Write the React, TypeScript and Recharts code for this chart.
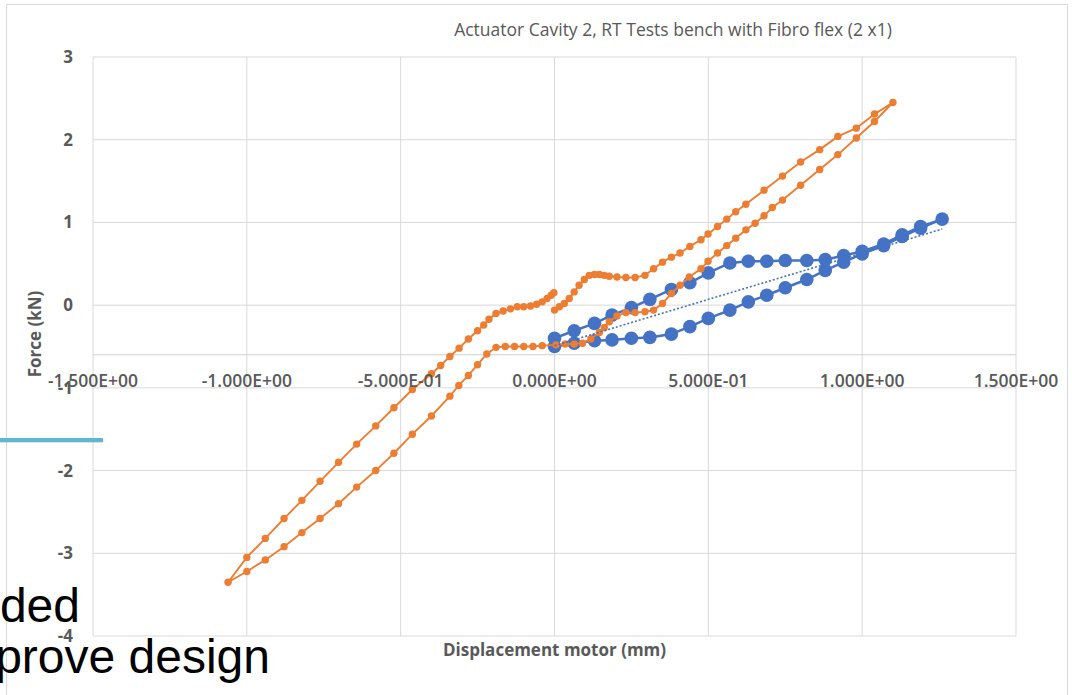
import {
  CartesianGrid,
  Label,
  ReferenceLine,
  Scatter,
  ScatterChart,
  XAxis,
  YAxis,
} from "recharts";

const FONT = "'Open Sans', 'DejaVu Sans', sans-serif";
const GREY = "#595959";

const xTicks = [-1.5, -1, -0.5, 0, 0.5, 1, 1.5];
const xTickLabels = [
  "-1.500E+00",
  "-1.000E+00",
  "-5.000E-01",
  "0.000E+00",
  "5.000E-01",
  "1.000E+00",
  "1.500E+00",
];
const yTicks = [-4, -3, -2, -1, 0, 1, 2, 3];
const xAxisCross = -0.6; // horizontal axis crosses the value axis here

// orange loop: out to +1.1, back through 0, down to -1.06, back up to 0
const orangeX = [
  0, 0.016, 0.032, 0.048, 0.064, 0.08, 0.097, 0.113, 0.13, 0.146, 0.162, 0.178,
  0.203, 0.232, 0.262, 0.294, 0.322, 0.351, 0.38, 0.408, 0.44, 0.476, 0.499,
  0.53, 0.56, 0.589, 0.622, 0.681, 0.741, 0.8, 0.862, 0.921, 0.981, 1.04, 1.1,
  1.04, 0.981, 0.921, 0.862, 0.8, 0.741, 0.708, 0.681, 0.652, 0.622, 0.589,
  0.56, 0.53, 0.499, 0.476, 0.438, 0.408, 0.38, 0.351, 0.322, 0.294, 0.262,
  0.232, 0.203, 0.178, 0.162, 0.146, 0.118, 0.091, 0.064, 0.035, 0.005, -0.04,
  -0.07, -0.1, -0.13, -0.16, -0.19, -0.22, -0.25, -0.28, -0.311, -0.34, -0.4,
  -0.462, -0.522, -0.581, -0.643, -0.702, -0.762, -0.821, -0.879, -0.94, -1.0,
  -1.061, -1.0, -0.94, -0.879, -0.821, -0.762, -0.702, -0.643, -0.581, -0.522,
  -0.462, -0.4, -0.37, -0.34, -0.31, -0.28, -0.25, -0.23, -0.213, -0.19,
  -0.167, -0.143, -0.121, -0.1, -0.078, -0.058, -0.04, -0.024, -0.011, -0.002,
];
const orangeY = [
  -0.06, -0.02, 0.02, 0.08, 0.16, 0.24, 0.31, 0.36, 0.37, 0.37, 0.36, 0.35,
  0.34, 0.335, 0.335, 0.36, 0.44, 0.52, 0.58, 0.63, 0.71, 0.79, 0.86, 0.95,
  1.04, 1.13, 1.22, 1.39, 1.56, 1.73, 1.88, 2.04, 2.14, 2.31, 2.45,
  2.22, 2.02, 1.82, 1.64, 1.45, 1.27, 1.18, 1.08, 0.99, 0.91, 0.81, 0.72,
  0.63, 0.53, 0.44, 0.34, 0.24, 0.14, 0.02, -0.06, -0.08, -0.09, -0.09, -0.13,
  -0.2, -0.27, -0.33, -0.41, -0.46, -0.47, -0.47, -0.48, -0.49, -0.5, -0.5,
  -0.5, -0.5, -0.51, -0.59, -0.72, -0.85, -0.97, -1.1, -1.34, -1.56, -1.79,
  -2.0, -2.2, -2.4, -2.58, -2.75, -2.92, -3.08, -3.22, -3.35,
  -3.05, -2.82, -2.58, -2.36, -2.13, -1.9, -1.68, -1.46, -1.24, -1.02, -0.83,
  -0.73, -0.62, -0.52, -0.41, -0.31, -0.24, -0.17, -0.1, -0.07, -0.045, -0.02,
  -0.02, -0.01, 0.01, 0.04, 0.08, 0.12, 0.15,
];

// blue loop (large markers)
const blueX = [
  0, 0.064, 0.13, 0.187, 0.25, 0.31, 0.38, 0.44, 0.5, 0.57, 0.63, 0.69, 0.75,
  0.82, 0.88, 0.94, 1.0, 1.07, 1.13, 1.19, 1.26,
  1.19, 1.13, 1.07, 1.0, 0.94, 0.88, 0.82, 0.75, 0.69, 0.63, 0.57, 0.5, 0.44,
  0.38, 0.31, 0.25, 0.187, 0.13, 0.064, 0,
];
const blueY = [
  -0.4, -0.31, -0.22, -0.12, -0.03, 0.07, 0.19, 0.27, 0.39, 0.51, 0.53, 0.53,
  0.54, 0.54, 0.55, 0.6, 0.65, 0.74, 0.85, 0.95, 1.04,
  0.93, 0.83, 0.72, 0.62, 0.52, 0.42, 0.31, 0.21, 0.12, 0.04, -0.06, -0.16,
  -0.26, -0.35, -0.39, -0.4, -0.42, -0.43, -0.46, -0.5,
];

// linear trend of the blue series
const trendX = [0, 1.26];
const trendY = [-0.49, 0.92];

const zip = (xs: number[], ys: number[]) => xs.map((x, i) => ({ x, y: ys[i] }));

const W = 1072;
const H = 695;
const MARGIN = { top: 57, right: 56, bottom: 29, left: 33 };
const Y_AXIS_W = 60;
const X_AXIS_H = 30;
const PLOT_H = H - MARGIN.top - MARGIN.bottom - X_AXIS_H;
const Y_MIN = -4;
const Y_MAX = 3;
// distance from the bottom of the plot up to the crossing line
const AXIS_LIFT = (PLOT_H * (xAxisCross - Y_MIN)) / (Y_MAX - Y_MIN);

function XTick(props: any) {
  const { x, y, payload } = props;
  const i = xTicks.indexOf(payload.value);
  return (
    <text
      x={x}
      y={y - AXIS_LIFT + 32}
      textAnchor="middle"
      fill={GREY}
      fontSize={17.5}
      fontWeight={600}
      fontFamily={FONT}
    >
      {xTickLabels[i]}
    </text>
  );
}

function YTitle(props: any) {
  const vb = props.viewBox ?? { x: 0 };
  const cx = vb.x + 1;
  const cy = 334;
  return (
    <text
      x={cx}
      y={cy}
      transform={`rotate(-90 ${cx} ${cy})`}
      textAnchor="middle"
      dominantBaseline="central"
      fill={GREY}
      fontSize={17}
      fontWeight={700}
      fontFamily={FONT}
    >
      Force (kN)
    </text>
  );
}

const orangeDot = (p: any) => <circle cx={p.cx} cy={p.cy} r={3.7} fill="#ED7D31" />;
const blueDot = (p: any) => <circle cx={p.cx} cy={p.cy} r={6.8} fill="#4472C4" />;
const noDot = () => <g />;

export default function App() {
  return (
    <div style={{ position: "absolute", left: 0, top: 0, width: W, height: H, background: "#fff", overflow: "hidden" }}>
      <ScatterChart width={W} height={H} margin={MARGIN}>
        <CartesianGrid stroke="#d9d9d9" strokeWidth={1} />
        <XAxis
          type="number"
          dataKey="x"
          domain={[-1.5, 1.5]}
          ticks={xTicks}
          interval={0}
          height={X_AXIS_H}
          axisLine={false}
          tickLine={false}
          tickSize={0}
          tickMargin={0}
          tick={<XTick />}
        >
          <Label
            value="Displacement motor (mm)"
            position="bottom"
            offset={-22}
            fill={GREY}
            fontSize={17}
            fontWeight={700}
            fontFamily={FONT}
          />
        </XAxis>
        <YAxis
          type="number"
          dataKey="y"
          domain={[Y_MIN, Y_MAX]}
          ticks={yTicks}
          interval={0}
          width={Y_AXIS_W}
          axisLine={false}
          tickLine={false}
          tickSize={0}
          tickMargin={20}
          tick={{ fill: GREY, fontSize: 17, fontWeight: 700, fontFamily: FONT }}
        >
          <Label content={<YTitle />} />
        </YAxis>
        <ReferenceLine y={xAxisCross} stroke="#cfcfcf" strokeWidth={1.2} />
        <Scatter
          data={zip(blueX, blueY)}
          line={{ stroke: "#4472C4", strokeWidth: 2.5 }}
          lineType="joint"
          shape={blueDot}
          isAnimationActive={false}
        />
        <Scatter
          data={zip(orangeX, orangeY)}
          line={{ stroke: "#ED7D31", strokeWidth: 1.9 }}
          lineType="joint"
          shape={orangeDot}
          isAnimationActive={false}
        />
        <Scatter
          data={zip(trendX, trendY)}
          line={{ stroke: "#4472C4", strokeWidth: 1.6, strokeDasharray: "2 2" }}
          lineType="joint"
          shape={noDot}
          isAnimationActive={false}
        />
      </ScatterChart>

      <svg
        width={W}
        height={H}
        style={{ position: "absolute", left: 0, top: 0, pointerEvents: "none" }}
      >
        <rect x={6.5} y={4.5} width={1061} height={720} fill="none" stroke="#d9d9d9" />
        <text x={673} y={36} textAnchor="middle" fill={GREY} fontSize={17.5} fontFamily={FONT}>
          Actuator Cavity 2, RT Tests bench with Fibro flex (2 x1)
        </text>
        <line x1={0} y1={442} x2={103} y2={442} stroke="rgba(0,0,0,0.12)" strokeWidth={2} />
        <line x1={0} y1={440} x2={103} y2={440} stroke="#5DB6D6" strokeWidth={4} />
        <text x={80} y={622} textAnchor="end" fill="#000" fontSize={48} fontFamily="'Liberation Sans', Arial, sans-serif">
          ded
        </text>
        <text x={270} y={673} textAnchor="end" fill="#000" fontSize={48} fontFamily="'Liberation Sans', Arial, sans-serif">
          prove design
        </text>
      </svg>
    </div>
  );
}
